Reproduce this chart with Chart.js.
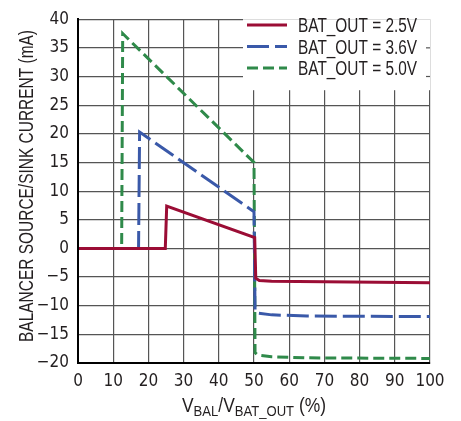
<!DOCTYPE html>
<html>
<head>
<meta charset="utf-8">
<script src="https://cdn.jsdelivr.net/npm/chart.js@4/dist/chart.umd.min.js"></script>
<style>
  html, body { margin: 0; padding: 0; background: #ffffff; }
  #wrap { width: 461px; height: 421px; }
</style>
</head>
<body>
<div id="wrap"><canvas id="chart" width="461" height="421"></canvas></div>
<script>
const TICK_FONT = "'DejaVu Sans Condensed', 'DejaVu Sans', sans-serif";
const TEXT_FONT = "'Liberation Sans', Arial, sans-serif";

// series (x in %, y in mA)
const seriesLabels = ['BAT_OUT = 2.5V', 'BAT_OUT = 3.6V', 'BAT_OUT = 5.0V'];

const xRed = [0, 24.8, 25.2, 50.2, 50.5, 51.5, 55, 100];
const yRed = [0, 0, 7.4, 1.9, -5.2, -5.6, -5.75, -6.0];

const xBlue = [0, 17.2, 17.5, 50, 50.3, 51, 55, 65, 100];
const yBlue = [0, 0, 20.3, 6.4, -10.8, -11.3, -11.6, -11.8, -11.9];

const xGreen = [0, 12.4, 12.7, 50, 50.3, 51, 55, 65, 100];
const yGreen = [0, 0, 37.5, 15.0, -18.2, -18.6, -18.9, -19.1, -19.2];

const xTicks = [0, 10, 20, 30, 40, 50, 60, 70, 80, 90, 100];
const yTicks = [-20, -15, -10, -5, 0, 5, 10, 15, 20, 25, 30, 35, 40];

function toPoints(xs, ys) {
    return xs.map((x, i) => ({ x: x, y: ys[i] }));
}

// draws text squeezed horizontally, to look like a condensed face
function condensedText(ctx, text, x, y, sx) {
    ctx.save();
    ctx.translate(x, y);
    ctx.scale(sx, 1);
    ctx.fillText(text, 0, 0);
    ctx.restore();
}

// legend drawn inside the plot, top right, on a white box
const insideLegend = {
    id: 'insideLegend',
    afterDatasetsDraw(chart) {
        const ctx = chart.ctx;
        const area = chart.chartArea;
        ctx.save();
        ctx.fillStyle = '#ffffff';
        ctx.fillRect(243, area.top, area.right - 243, 71);
        // little grid stubs left on the right border
        ctx.strokeStyle = '#555555';
        ctx.lineWidth = 1.2;
        [35, 30].forEach(v => {
            const py = chart.scales.y.getPixelForValue(v);
            ctx.beginPath();
            ctx.moveTo(area.right - 4, py);
            ctx.lineTo(area.right, py);
            ctx.stroke();
        });
        chart.data.datasets.forEach((ds, i) => {
            const y = 25 + i * 21.5;
            ctx.beginPath();
            ctx.strokeStyle = ds.borderColor;
            ctx.lineWidth = 3;
            ctx.setLineDash(ds.borderDash || []);
            ctx.moveTo(247, y);
            ctx.lineTo(287, y);
            ctx.stroke();
            ctx.setLineDash([]);
            ctx.fillStyle = '#231f20';
            ctx.font = '20px ' + TEXT_FONT;
            ctx.textBaseline = 'alphabetic';
            ctx.textAlign = 'left';
            condensedText(ctx, ds.label, 298, y + 7, 0.77);
        });
        ctx.restore();
    }
};

// axis titles (x title has subscripts)
const axisTitles = {
    id: 'axisTitles',
    afterDraw(chart) {
        const ctx = chart.ctx;
        const area = chart.chartArea;
        ctx.save();
        ctx.fillStyle = '#231f20';
        ctx.textBaseline = 'alphabetic';
        ctx.textAlign = 'left';

        const parts = [
            { t: 'V', sub: false }, { t: 'BAL', sub: true },
            { t: '/V', sub: false }, { t: 'BAT_OUT', sub: true },
            { t: ' (%)', sub: false }
        ];
        const big = '20px ' + TEXT_FONT, small = '15px ' + TEXT_FONT;
        let total = 0;
        parts.forEach(p => { ctx.font = p.sub ? small : big; total += ctx.measureText(p.t).width; });
        const sx = 144 / total;
        let x = (area.left + area.right) / 2 - 72;
        parts.forEach(p => {
            ctx.font = p.sub ? small : big;
            condensedText(ctx, p.t, x, p.sub ? 416 : 412, sx);
            x += ctx.measureText(p.t).width * sx;
        });

        const title = 'BALANCER SOURCE/SINK CURRENT (mA)';
        ctx.font = big;
        const sy = 312 / ctx.measureText(title).width;
        ctx.translate(33, 186);
        ctx.rotate(-Math.PI / 2);
        ctx.textAlign = 'center';
        condensedText(ctx, title, 0, 0, sy);
        ctx.restore();
    }
};

const ctx = document.getElementById('chart').getContext('2d');
new Chart(ctx, {
    type: 'line',
    data: {
        datasets: [
            {
                label: seriesLabels[0],
                data: toPoints(xRed, yRed),
                borderColor: '#9b0d35',
                borderWidth: 3,
                pointRadius: 0,
                tension: 0
            },
            {
                label: seriesLabels[1],
                data: toPoints(xBlue, yBlue),
                borderColor: '#3a59a9',
                borderWidth: 3,
                borderDash: [22, 6],
                pointRadius: 0,
                tension: 0
            },
            {
                label: seriesLabels[2],
                data: toPoints(xGreen, yGreen),
                borderColor: '#2f8a4a',
                borderWidth: 3,
                borderDash: [11, 5],
                pointRadius: 0,
                tension: 0
            }
        ]
    },
    options: {
        responsive: false,
        animation: false,
        layout: { padding: { top: 11, right: 31, left: 0, bottom: 0 } },
        plugins: {
            legend: { display: false },
            tooltip: { enabled: false }
        },
        scales: {
            x: {
                type: 'linear',
                min: 0,
                max: 100,
                afterFit: function(scale) { scale.height = 58; },
                afterBuildTicks: function(scale) { scale.ticks = xTicks.map(v => ({ value: v })); },
                ticks: {
                    padding: 8,
                    color: '#231f20',
                    font: { family: TICK_FONT, size: 17 },
                    maxRotation: 0,
                    autoSkip: false
                },
                grid: { color: '#555555', lineWidth: 1.2, drawTicks: false },
                border: { color: '#000000', width: 2, z: 1 }
            },
            y: {
                min: -20,
                max: 40,
                afterFit: function(scale) { scale.width = 78; },
                afterBuildTicks: function(scale) { scale.ticks = yTicks.map(v => ({ value: v })); },
                ticks: {
                    padding: 9,
                    color: '#231f20',
                    font: { family: TICK_FONT, size: 17 },
                    autoSkip: false,
                    callback: function(value) {
                        return value < 0 ? '\u2212' + Math.abs(value) : String(value);
                    }
                },
                grid: { color: '#555555', lineWidth: 1.2, drawTicks: false },
                border: { color: '#000000', width: 2, z: 1 }
            }
        }
    },
    plugins: [insideLegend, axisTitles]
});
</script>
</body>
</html>
